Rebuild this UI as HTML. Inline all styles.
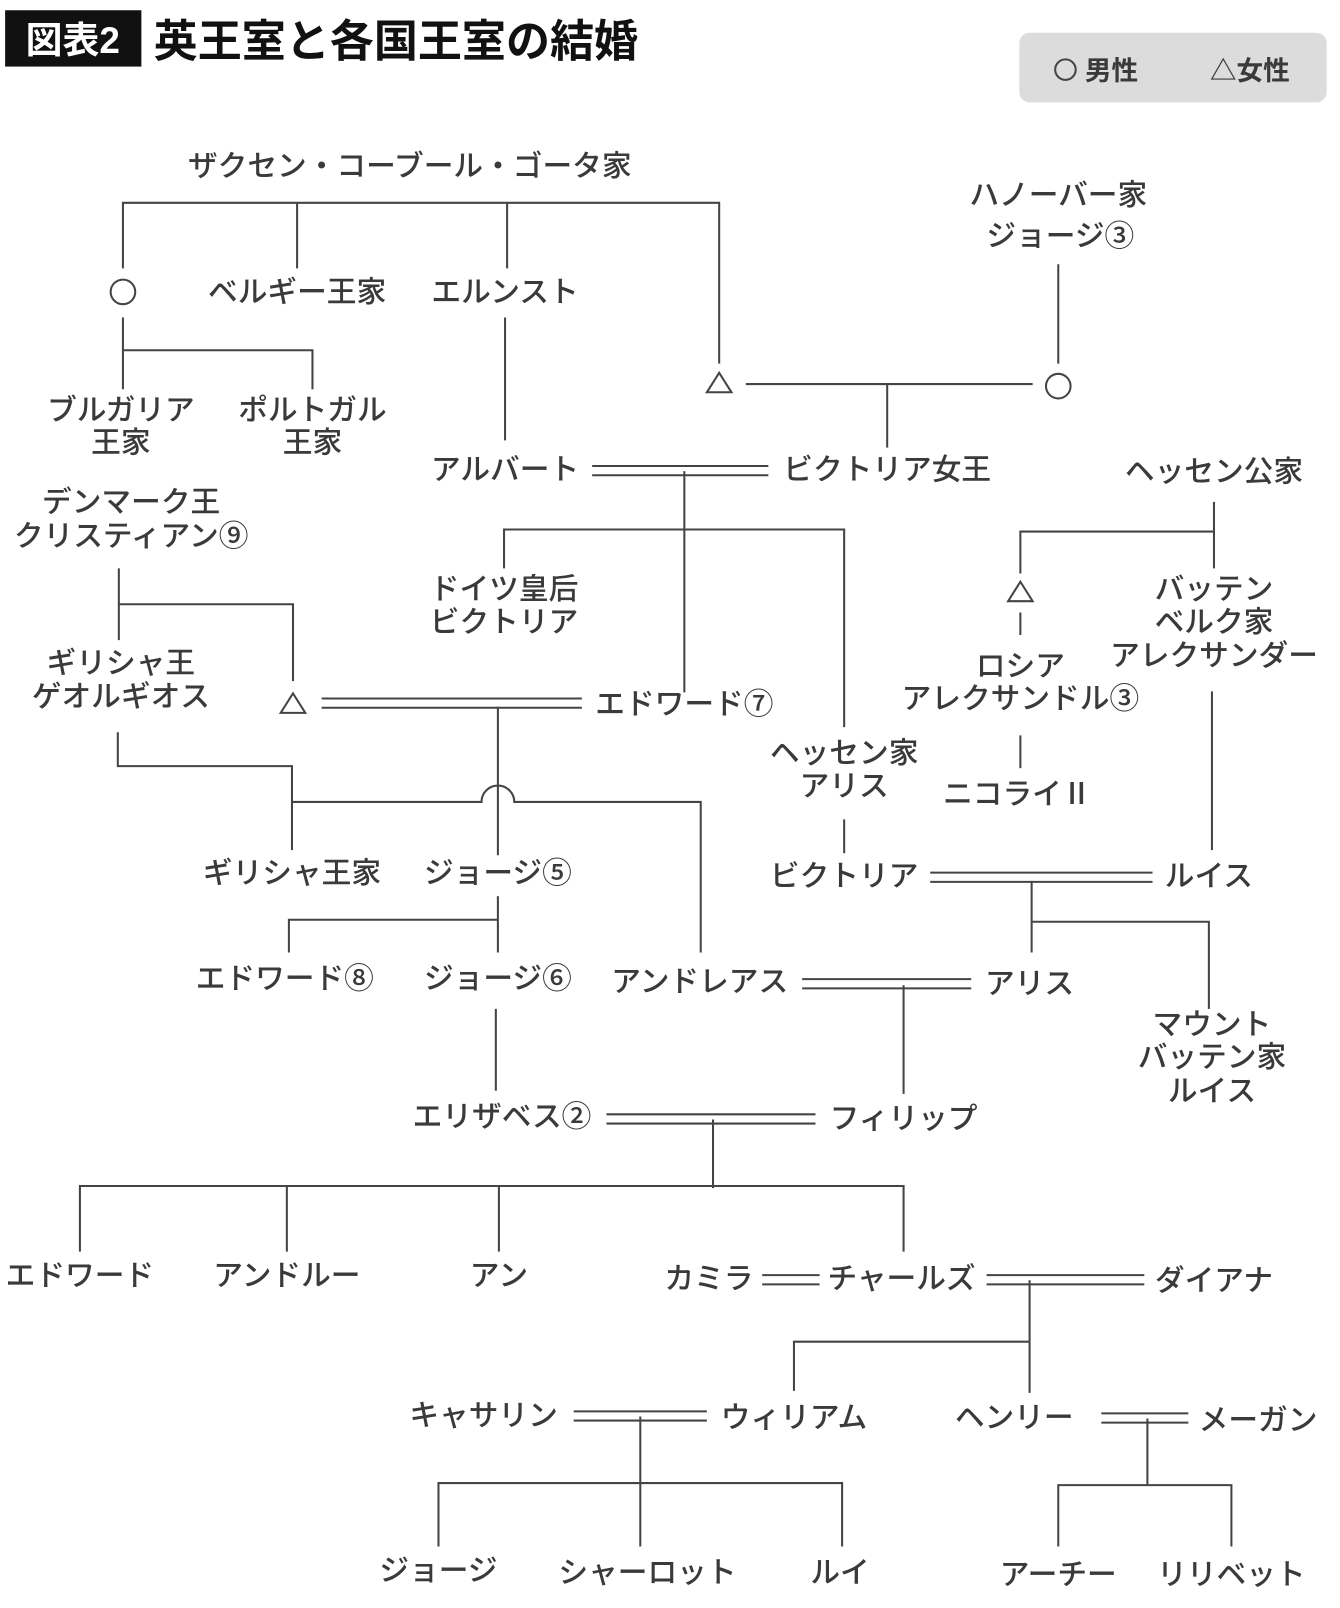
<!DOCTYPE html>
<html><head><meta charset="utf-8"><style>
html,body{margin:0;padding:0;background:#fff;}
svg{display:block;}
text{font-family:"Liberation Sans","Noto Sans CJK JP",sans-serif;font-size:29px;fill:#3a3a3a;text-anchor:middle;font-weight:500;}
line,polyline,path{stroke:#444;stroke-width:2;fill:none;}
</style></head><body>
<svg width="1340" height="1608" viewBox="0 0 1308 1570" preserveAspectRatio="none" xmlns="http://www.w3.org/2000/svg">
<rect x="0" y="0" width="1308" height="1570" fill="#fff"/>
<rect x="5" y="10" width="133" height="55" fill="#111"/>
<text x="71" y="52" style="fill:#fff;font-size:36px;font-weight:700">図表2</text>
<text x="150" y="55" style="font-size:43px;text-anchor:start;fill:#111;font-weight:700">英王室と各国王室の結婚</text>
<rect x="995" y="32" width="300" height="68" rx="10" fill="#dcdcdc"/>
<circle cx="1040" cy="68" r="10" stroke="#444" stroke-width="2" fill="none"/>
<text x="1085" y="78" style="font-size:26px;font-weight:700">男性</text>
<text x="1220" y="78" style="font-size:26px;font-weight:700">△女性</text>

<text x="400" y="172">ザクセン・コーブール・ゴータ家</text>
<polyline points="120,262 120,198 702,198 702,355"/>
<line x1="290" y1="198" x2="290" y2="262"/>
<line x1="495" y1="198" x2="495" y2="262"/>
<circle cx="120" cy="285" r="12" stroke="#444" stroke-width="2" fill="none"/>
<text x="290" y="295">ベルギー王家</text>
<text x="493" y="295">エルンスト</text>
<text x="1033" y="200">ハノーバー家</text>
<text x="1035" y="240">ジョージ③</text>
<line x1="1033" y1="258" x2="1033" y2="355"/>
<circle cx="1033" cy="377" r="12" stroke="#444" stroke-width="2" fill="none"/>
<polygon points="702,364 690,383 714,383" stroke="#444" stroke-width="2" fill="none"/>
<line x1="728" y1="375" x2="1008" y2="375"/>
<line x1="866" y1="375" x2="866" y2="437"/>

<line x1="120" y1="310" x2="120" y2="380"/>
<polyline points="120,342 305,342 305,380"/>
<text x="118" y="410">ブルガリア</text><text x="118" y="442">王家</text>
<text x="305" y="410">ポルトガル</text><text x="305" y="442">王家</text>

<line x1="493" y1="310" x2="493" y2="430"/>
<text x="493" y="468">アルバート</text>
<line x1="578" y1="455" x2="750" y2="455"/><line x1="578" y1="464" x2="750" y2="464"/>
<text x="866" y="468">ビクトリア女王</text>
<line x1="668" y1="460" x2="668" y2="676"/>
<polyline points="492,555 492,517 824,517 824,710"/>
<text x="492" y="585">ドイツ皇后</text><text x="492" y="617">ビクトリア</text>

<text x="128" y="500">デンマーク王</text>
<text x="128" y="533">クリスティアン⑨</text>
<line x1="116" y1="555" x2="116" y2="625"/>
<polyline points="116,590 286,590 286,665"/>
<text x="118" y="657">ギリシャ王</text><text x="118" y="690">ゲオルギオス</text>
<polygon points="286,677 274,696 298,696" stroke="#444" stroke-width="2" fill="none"/>
<line x1="314" y1="682" x2="568" y2="682"/><line x1="314" y1="691" x2="568" y2="691"/>
<text x="668" y="697">エドワード⑦</text>

<line x1="486" y1="690" x2="486" y2="835"/>
<polyline points="115,715 115,748 285,748 285,830"/>
<path d="M285,783 L470,783 A16,16 0 0 1 502,783 L684,783 L684,930"/>
<text x="285" y="862">ギリシャ王家</text>
<text x="486" y="862">ジョージ⑤</text>

<text x="1185" y="470">ヘッセン公家</text>
<line x1="1185" y1="490" x2="1185" y2="555"/>
<polyline points="996,560 996,519 1185,519"/>
<polygon points="996,568 984,587 1008,587" stroke="#444" stroke-width="2" fill="none"/>
<line x1="996" y1="598" x2="996" y2="620"/>
<text x="996" y="660">ロシア</text><text x="996" y="692">アレクサンドル③</text>
<line x1="996" y1="718" x2="996" y2="750"/>
<text x="993" y="785">ニコライⅡ</text>
<text x="1185" y="585">バッテン</text><text x="1185" y="617">ベルク家</text><text x="1185" y="650">アレクサンダー</text>
<line x1="1183" y1="675" x2="1183" y2="830"/>

<text x="824" y="745">ヘッセン家</text><text x="824" y="777">アリス</text>
<line x1="824" y1="800" x2="824" y2="833"/>
<text x="824" y="865">ビクトリア</text>
<line x1="908" y1="852" x2="1125" y2="852"/><line x1="908" y1="861" x2="1125" y2="861"/>
<text x="1180" y="865">ルイス</text>
<line x1="1007" y1="860" x2="1007" y2="930"/>
<polyline points="1007,900 1180,900 1180,985"/>
<text x="1183" y="1010">マウント</text><text x="1183" y="1042">バッテン家</text><text x="1183" y="1075">ルイス</text>

<line x1="486" y1="875" x2="486" y2="930"/>
<polyline points="282,930 282,898 486,898"/>
<text x="278" y="965">エドワード⑧</text>
<text x="486" y="965">ジョージ⑥</text>
<text x="683" y="968">アンドレアス</text>
<line x1="783" y1="956" x2="948" y2="956"/><line x1="783" y1="965" x2="948" y2="965"/>
<text x="1005" y="970">アリス</text>
<line x1="882" y1="962" x2="882" y2="1068"/>
<line x1="484" y1="985" x2="484" y2="1065"/>
<text x="490" y="1100">エリザベス②</text>
<line x1="592" y1="1088" x2="796" y2="1088"/><line x1="592" y1="1097" x2="796" y2="1097"/>
<text x="882" y="1102">フィリップ</text>
<line x1="696" y1="1093" x2="696" y2="1160"/>
<polyline points="78,1222 78,1158 882,1158 882,1222"/>
<line x1="280" y1="1158" x2="280" y2="1222"/>
<line x1="487" y1="1158" x2="487" y2="1222"/>

<text x="78" y="1255">エドワード</text>
<text x="280" y="1255">アンドルー</text>
<text x="487" y="1255">アン</text>
<text x="692" y="1258">カミラ</text>
<line x1="744" y1="1245" x2="800" y2="1245"/><line x1="744" y1="1254" x2="800" y2="1254"/>
<text x="880" y="1258">チャールズ</text>
<line x1="963" y1="1245" x2="1117" y2="1245"/><line x1="963" y1="1254" x2="1117" y2="1254"/>
<text x="1185" y="1260">ダイアナ</text>
<line x1="1005" y1="1250" x2="1005" y2="1360"/>
<polyline points="775,1358 775,1310 1005,1310"/>

<text x="472" y="1392">キャサリン</text>
<line x1="560" y1="1378" x2="690" y2="1378"/><line x1="560" y1="1387" x2="690" y2="1387"/>
<text x="775" y="1394">ウィリアム</text>
<text x="990" y="1394">ヘンリー</text>
<line x1="1075" y1="1380" x2="1160" y2="1380"/><line x1="1075" y1="1389" x2="1160" y2="1389"/>
<text x="1228" y="1396">メーガン</text>
<line x1="625" y1="1383" x2="625" y2="1510"/>
<polyline points="428,1510 428,1448 822,1448 822,1510"/>
<line x1="1120" y1="1385" x2="1120" y2="1450"/>
<polyline points="1033,1510 1033,1450 1202,1450 1202,1510"/>
<text x="428" y="1543">ジョージ</text>
<text x="632" y="1545">シャーロット</text>
<text x="820" y="1545">ルイ</text>
<text x="1033" y="1547">アーチー</text>
<text x="1202" y="1547">リリベット</text>
</svg>
</body></html>
